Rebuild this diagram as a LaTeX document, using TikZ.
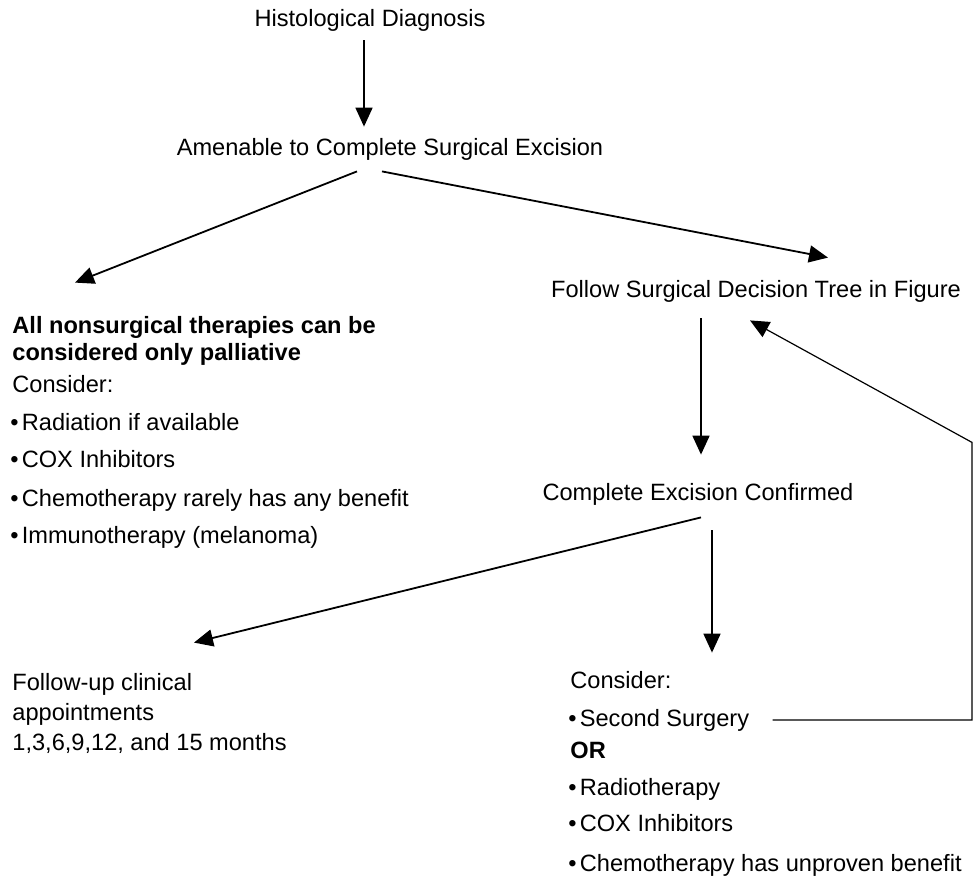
\documentclass[tikz,border=0pt]{standalone}
\usepackage{fontspec}
\setmainfont{Liberation Sans}
\usetikzlibrary{arrows.meta,calc}

\tikzset{
  txt/.style={inner sep=0pt,text height=8.5pt,text depth=2.5pt},
  arr/.style={line width=0.9pt,-{Triangle[length=9.5pt,width=8.5pt]}},
  loopline/.style={line width=0.6pt,-{Triangle[length=9.5pt,width=8.5pt]}}
}
\newcommand{\bul}{\textbullet\hspace{1.6pt}}

\begin{document}
\begin{tikzpicture}[x=0.5pt,y=-0.5pt,font=\fontsize{11.8}{14}\selectfont]
\useasboundingbox (0,0) rectangle (976,879);
% top of the tree
\node[txt,anchor=base] (hist) at (370,26) {Histological Diagnosis};
\node[txt,anchor=base] (amen) at (390,155) {Amenable to Complete Surgical Excision};
\node[txt,anchor=base] (follow) at (756,297) {Follow Surgical Decision Tree in Figure};
\node[txt,anchor=base] (conf) at (698,500) {Complete Excision Confirmed};
% left branch
\node[txt,anchor=base west,font=\fontsize{11.8}{14}\selectfont\bfseries] (pall1) at (12,333) {All nonsurgical therapies can be};
\node[txt,anchor=base west,font=\fontsize{11.8}{14}\selectfont\bfseries] (pall2) at (12,360) {considered only palliative};
\node[txt,anchor=base west] (consL) at (12,392) {Consider:};
\node[txt,anchor=base west] (radL) at (10,430) {\bul Radiation if available};
\node[txt,anchor=base west] (coxL) at (10,467) {\bul COX Inhibitors};
\node[txt,anchor=base west] (chemoL) at (10,506) {\bul Chemotherapy rarely has any benefit};
\node[txt,anchor=base west] (immL) at (10,543) {\bul Immunotherapy (melanoma)};
% follow-up
\node[txt,anchor=base west] (fu1) at (12,690) {Follow-up clinical};
\node[txt,anchor=base west] (fu2) at (12,720) {appointments};
\node[txt,anchor=base west] (fu3) at (12,750) {1,3,6,9,12, and 15 months};
% right branch
\node[txt,anchor=base west] (consR) at (570,688) {Consider:};
\node[txt,anchor=base west] (surg) at (568,726) {\bul Second Surgery};
\node[txt,anchor=base west,font=\fontsize{11.8}{14}\selectfont\bfseries] (orR) at (570,758) {OR};
\node[txt,anchor=base west] (radR) at (568,795) {\bul Radiotherapy};
\node[txt,anchor=base west] (coxR) at (568,831) {\bul COX Inhibitors};
\node[txt,anchor=base west] (chemoR) at (568,871) {\bul Chemotherapy has unproven benefit};
% arrows
\draw[arr] ($(hist.south)+(-6,9)$) -- ($(amen.north)+(-26,-11)$);
\draw[arr] ($(amen.south)+(-33,11)$) -- ($(pall1.north west)+(63,-33)$);
\draw[arr] ($(amen.south)+(-8,11)$) -- ($(follow.north)+(72,-22)$);
\draw[arr] ($(follow.south)+(-55,16)$) -- ($(conf.north)+(3,-28)$);
\draw[arr] ($(conf.south)+(3,12)$) -- ($(fu1.north west)+(182,-30)$);
\draw[arr] ($(conf.south)+(14,25)$) -- ($(consR.north west)+(142,-18)$);
\draw[loopline] ($(surg.east)+(23,0)$) -| ($(follow.south)+(216,140)$) -- ($(follow.south)+(-6,18)$);
\end{tikzpicture}
\end{document}
